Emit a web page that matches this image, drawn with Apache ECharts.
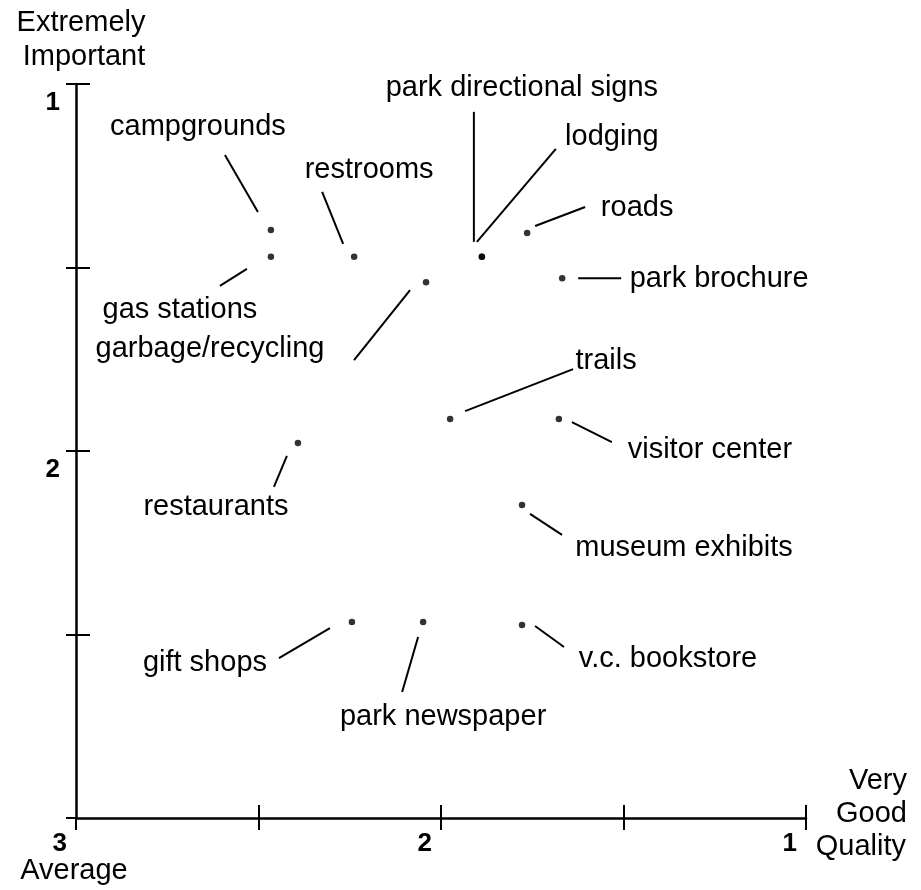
<!DOCTYPE html>
<html>
<head>
<meta charset="utf-8">
<script src="https://cdn.jsdelivr.net/npm/echarts@6/dist/echarts.min.js"></script>
<style>html,body{margin:0;padding:0;background:#fff}#c{width:921px;height:890px}</style>
</head>
<body>
<div id="c"></div>
<script>
// ---- data ----
const items = ['campgrounds','gas stations','restrooms','park directional signs','lodging','roads','park brochure','garbage/recycling','trails','visitor center','restaurants','museum exhibits','gift shops','park newspaper','v.c. bookstore'];
const quality = [2.466, 2.466, 2.238, 1.888, 1.888, 1.764, 1.668, 2.041, 1.975, 1.677, 2.392, 1.778, 2.244, 2.049, 1.778];
const importance = [1.398, 1.471, 1.471, 1.471, 1.471, 1.406, 1.529, 1.540, 1.913, 1.913, 1.978, 2.147, 2.466, 2.466, 2.474];
const xTickValues = [3, 2, 1];
const xTickLabels = ['3', '2', '1'];
const yTickValues = [1, 2];
const yTickLabels = ['1', '2'];

// ---- label layout (pixel offsets relative to each dot) ----
const layout = [
  {t:[-73,-103], a:[-46,-75], b:[-13,-18]},
  {t:[-91,53],   a:[-24,12],  b:[-51,29]},
  {t:[15,-87],   a:[-32,-65], b:[-11,-13]},
  {t:[40,-169],  a:[-8,-145], b:[-8,-15]},
  {t:[130,-120], a:[74,-108], b:[-5,-15]},
  {t:[110,-25],  a:[8,-7],    b:[58,-26]},
  {t:[157,1],    a:[16,0],    b:[59,0]},
  {t:[-216,67],  a:[-16,8],   b:[-72,78]},
  {t:[156,-58],  a:[15,-8],   b:[123,-50]},
  {t:[151,31],   a:[13,3],    b:[53,23]},
  {t:[-82,64],   a:[-11,13],  b:[-24,44]},
  {t:[162,43],   a:[8,9],     b:[40,30]},
  {t:[-147,41],  a:[-22,6],   b:[-73,36]},
  {t:[20,95],    a:[-5,15],   b:[-21,70]},
  {t:[146,34],   a:[13,1],    b:[42,22]}
];

const FONT = 'Liberation Sans, Arial, Helvetica, sans-serif';
const FS = 29;

const pts = items.map((n, i) => [quality[i], importance[i], i]);

const chart = echarts.init(document.getElementById('c'), null, {renderer: 'canvas'});

const axisCommon = {
  type: 'value', min: 1, max: 3, inverse: true, interval: 0.5,
  splitLine: {show: false}
};

function txt(s, x, y, align) {
  return {type: 'text', x: x, y: y, style: {text: s, font: FS + 'px ' + FONT, fill: '#000', align: align || 'center', verticalAlign: 'middle'}};
}

chart.setOption({
  animation: false,
  backgroundColor: '#fff',
  grid: {left: 76, right: 115, top: 84, bottom: 72, containLabel: false},
  xAxis: [
    Object.assign({}, axisCommon, {
      position: 'bottom',
      axisLine: {show: true, lineStyle: {color: '#000', width: 2.5}},
      axisTick: {show: true, inside: false, length: 12, lineStyle: {color: '#000', width: 2}},
      axisLabel: {
        show: true, margin: 13, color: '#000', fontFamily: FONT, fontSize: 26, fontWeight: 'bold',
        customValues: xTickValues,
        align: 'right', padding: [0, 9, 0, 0],
        formatter: v => xTickLabels[xTickValues.indexOf(v)] || ''
      }
    }),
    Object.assign({}, axisCommon, {
      position: 'bottom',
      axisLine: {show: false},
      axisTick: {show: true, inside: true, length: 13, customValues: [2.5, 2, 1.5, 1], lineStyle: {color: '#000', width: 2}},
      axisLabel: {show: false}
    })
  ],
  yAxis: [
    Object.assign({}, axisCommon, {
      position: 'left',
      axisLine: {show: true, lineStyle: {color: '#000', width: 2.5}},
      axisTick: {show: true, inside: false, length: 10, lineStyle: {color: '#000', width: 2}},
      axisLabel: {
        show: true, margin: 16, color: '#000', fontFamily: FONT, fontSize: 26, fontWeight: 'bold',
        customValues: yTickValues,
        verticalAlign: 'top', padding: [6, 0, 0, 0],
        formatter: v => yTickLabels[yTickValues.indexOf(v)] || ''
      }
    }),
    Object.assign({}, axisCommon, {
      position: 'left',
      axisLine: {show: false},
      axisTick: {show: true, inside: true, length: 14, customValues: [1, 1.5, 2, 2.5], lineStyle: {color: '#000', width: 2}},
      axisLabel: {show: false}
    })
  ],
  graphic: [
    txt('Extremely', 81, 23),
    txt('Important', 84, 57),
    txt('Very', 907, 781, 'right'),
    txt('Good', 907, 814, 'right'),
    txt('Quality', 906, 847, 'right'),
    txt('Average', 74, 871)
  ],
  series: [
    {
      type: 'scatter', xAxisIndex: 0, yAxisIndex: 0,
      symbol: 'circle', symbolSize: 6.5,
      itemStyle: {color: '#000'},
      data: pts, silent: true
    },
    {
      type: 'custom', xAxisIndex: 0, yAxisIndex: 0,
      data: pts, silent: true,
      renderItem: function (params, api) {
        const p = api.coord([api.value(0), api.value(1)]);
        const L = layout[params.dataIndex];
        return {
          type: 'group',
          children: [
            {type: 'line', shape: {x1: p[0] + L.a[0], y1: p[1] + L.a[1], x2: p[0] + L.b[0], y2: p[1] + L.b[1]},
             style: {stroke: '#000', lineWidth: 2}},
            {type: 'text', x: p[0] + L.t[0], y: p[1] + L.t[1],
             style: {text: items[params.dataIndex], font: FS + 'px ' + FONT, fill: '#000', align: 'center', verticalAlign: 'middle'}}
          ]
        };
      }
    }
  ]
});
</script>
</body>
</html>
